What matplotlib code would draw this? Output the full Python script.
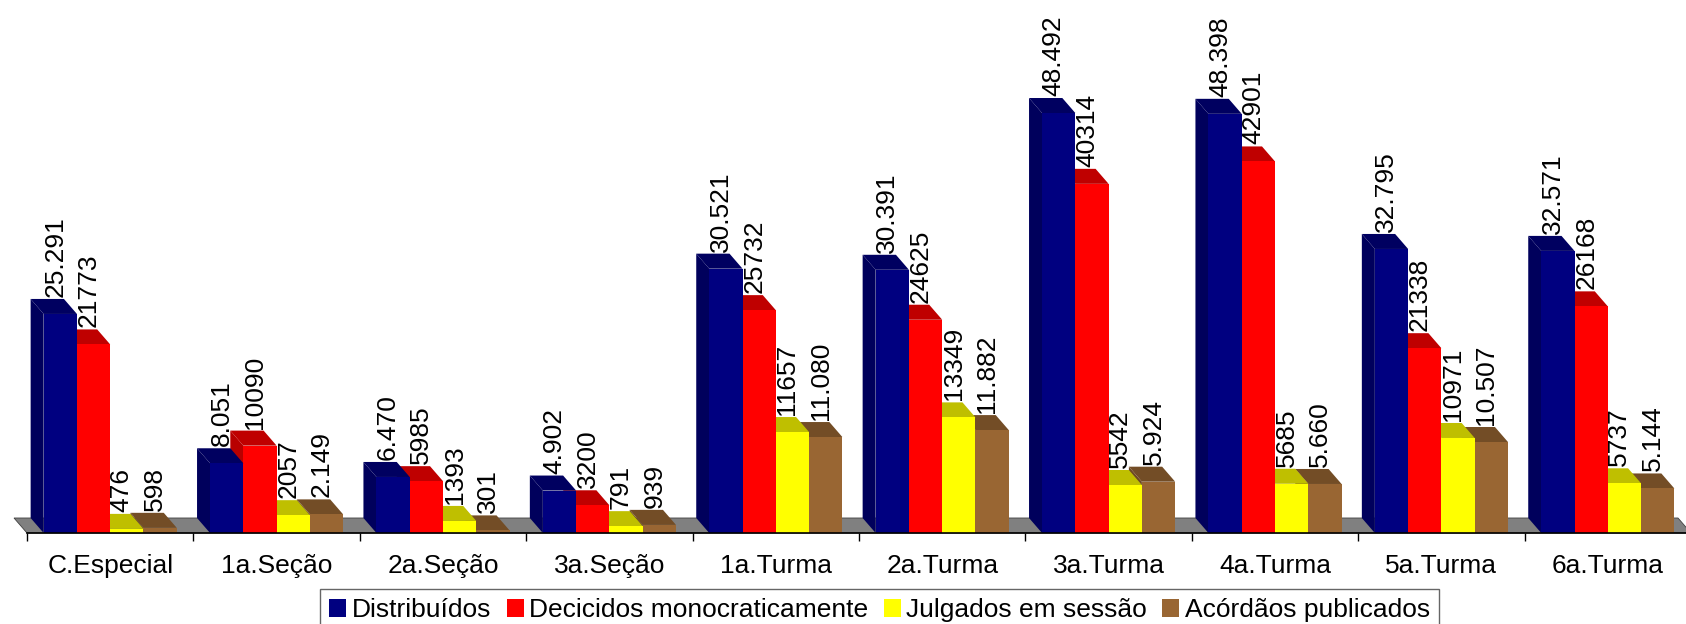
import matplotlib
matplotlib.use('Agg')
import matplotlib.pyplot as plt
from matplotlib.patches import Polygon, Patch
from matplotlib.colors import to_rgb

plt.rcParams['font.family'] = ['Liberation Sans', 'DejaVu Sans']

categories = ["C.Especial", "1a.Seção", "2a.Seção", "3a.Seção", "1a.Turma",
              "2a.Turma", "3a.Turma", "4a.Turma", "5a.Turma", "6a.Turma"]
distribuidos = [25291, 8051, 6470, 4902, 30521, 30391, 48492, 48398, 32795, 32571]
decididos = [21773, 10090, 5985, 3200, 25732, 24625, 40314, 42901, 21338, 26168]
julgados = [476, 2057, 1393, 791, 11657, 13349, 5542, 5685, 10971, 5737]
acordaos = [598, 2149, 301, 939, 11080, 11882, 5924, 5660, 10507, 5144]
series_names = ["Distribuídos", "Decicidos monocraticamente",
                "Julgados em sessão", "Acórdãos publicados"]
series_values = [distribuidos, decididos, julgados, acordaos]
series_colors = ["#000080", "#FF0000", "#FFFF00", "#996633"]
series_dotted = [True, False, False, True]


def fmt(v, dotted):
    s = f"{v:,}"
    return s.replace(",", ".") if dotted else s.replace(",", "")


def shade(c, f):
    r, g, b = to_rgb(c)
    return (r * f, g * f, b * f)


W, H = 1686, 624
fig = plt.figure(figsize=(W / 100, H / 100), dpi=100)
ax_left, ax_w = 27, 1664
ax_bottom_px = 533
ax = fig.add_axes([ax_left / W, (H - ax_bottom_px) / H, ax_w / W, ax_bottom_px / H])
px_per_unit = 0.008661
YMAX = ax_bottom_px / px_per_unit
ax.set_xlim(0, len(categories))
ax.set_ylim(0, YMAX)

# depth of the 3D effect (pixels -> data units)
dxu = 13 * len(categories) / ax_w
dyu = 15 * YMAX / ax_bottom_px

# floor
n = len(categories)
floor = Polygon([(0, 0), (n, 0), (n - dxu, dyu), (-dxu, dyu)], closed=True,
                facecolor="#808080", edgecolor="#404040", linewidth=0.6,
                zorder=1, clip_on=False)
ax.add_patch(floor)

bw = 0.2
gap = 0.1
for k in range(n):
    for i in reversed(range(len(series_values))):
        v = series_values[i][k]
        c = series_colors[i]
        x0 = k + gap + i * bw
        x1 = x0 + bw
        z = 3 + k * 10 + (len(series_values) - i)
        # side face (left)
        side = Polygon([(x0, 0), (x0, v), (x0 - dxu, v + dyu), (x0 - dxu, dyu)],
                       closed=True, facecolor=shade(c, 0.72), edgecolor='none',
                       zorder=z, clip_on=False)
        ax.add_patch(side)
        # top face
        top = Polygon([(x0, v), (x1, v), (x1 - dxu, v + dyu), (x0 - dxu, v + dyu)],
                      closed=True, facecolor=shade(c, 0.75), edgecolor='none',
                      zorder=z, clip_on=False)
        ax.add_patch(top)
        # front face
        ax.bar(x0, v, width=bw, align='edge', color=c, edgecolor='none',
               zorder=z + 0.5, clip_on=False)
        ax.annotate(fmt(v, series_dotted[i]), xy=(x0 + bw / 2, v),
                    xytext=(-5 * 0.72, 17 * 0.72), textcoords='offset points',
                    rotation=90, ha='center', va='bottom', fontsize=19,
                    color='black', zorder=2, annotation_clip=False)

for s in ['left', 'top', 'right']:
    ax.spines[s].set_visible(False)
ax.spines['bottom'].set_color('black')
ax.spines['bottom'].set_linewidth(1.2)
ax.spines['bottom'].set_zorder(500)
ax.set_yticks([])
ax.set_xticks([k + 0.5 for k in range(n)])
ax.set_xticklabels(categories, fontsize=19)
ax.tick_params(axis='x', which='major', length=0, pad=15)
ax.set_xticks(list(range(n + 1)), minor=True)
ax.tick_params(axis='x', which='minor', length=5.8, width=1.0, color='black')
ax.patch.set_visible(False)

handles = [Patch(facecolor=c, edgecolor='none') for c in series_colors]
leg = fig.legend(handles, series_names, loc='upper left',
                 bbox_to_anchor=(320 / W, 1 - 589 / H), ncol=4, fontsize=19,
                 handlelength=0.64, handleheight=0.64, handletextpad=0.2,
                 columnspacing=0.6, borderpad=0.35, borderaxespad=0,
                 fancybox=False, frameon=True)
leg.get_frame().set_edgecolor('#404040')
leg.get_frame().set_linewidth(1.0)

fig.savefig("out.png", dpi=100)
